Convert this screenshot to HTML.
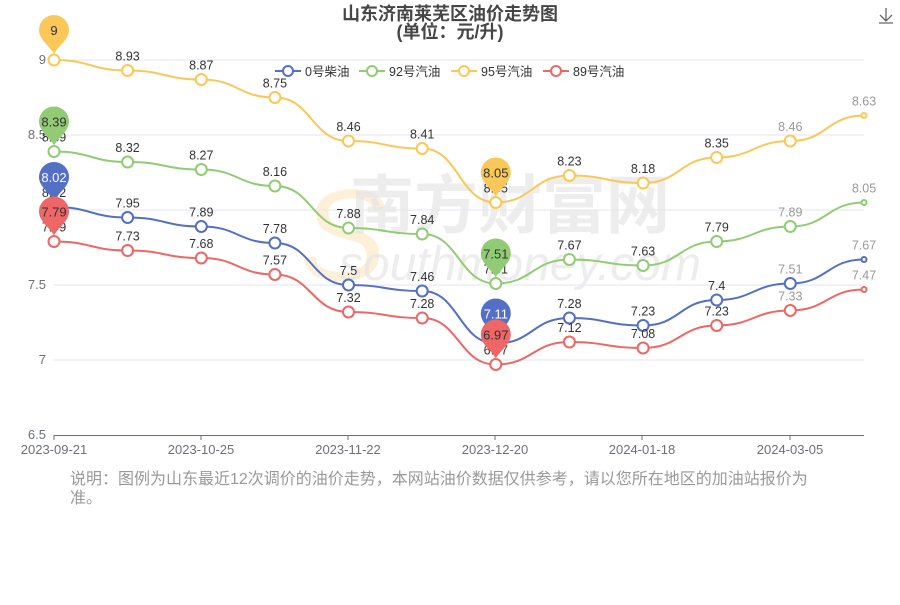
<!DOCTYPE html>
<html><head><meta charset="utf-8"><style>
body{margin:0;background:#fff;width:900px;height:600px;overflow:hidden}
svg{font-family:"Liberation Sans","Noto Sans CJK SC",sans-serif}
</style></head><body>
<svg id="s" width="900" height="600" xmlns="http://www.w3.org/2000/svg">
<text x="450" y="20" text-anchor="middle" font-size="18" font-weight="bold" fill="#464646">山东济南莱芜区油价走势图</text>
<text x="450" y="38" text-anchor="middle" font-size="18" font-weight="bold" fill="#464646">(单位：元/升)</text>
<g stroke="#666" fill="none" stroke-width="1.3"><path d="M886 8v13M880 15l6 6 6-6M879 23h14"/></g>
<g stroke="#e0e6f1" stroke-width="1">
<line x1="54" x2="864" y1="60" y2="60"/><line x1="54" x2="864" y1="135" y2="135"/><line x1="54" x2="864" y1="210" y2="210"/><line x1="54" x2="864" y1="285" y2="285"/><line x1="54" x2="864" y1="360" y2="360"/></g>
<line x1="54" x2="864" y1="435.5" y2="435.5" stroke="#6e7079"/>
<g stroke="#6e7079"><line x1="54" x2="54" y1="435" y2="440"/><line x1="201" x2="201" y1="435" y2="440"/><line x1="348" x2="348" y1="435" y2="440"/><line x1="495" x2="495" y1="435" y2="440"/><line x1="642" x2="642" y1="435" y2="440"/><line x1="790" x2="790" y1="435" y2="440"/></g>
<g font-size="13" fill="#6e7079" text-anchor="end"><text x="46" y="64">9</text><text x="46" y="139">8.5</text><text x="46" y="214">8</text><text x="46" y="289">7.5</text><text x="46" y="364">7</text><text x="46" y="439">6.5</text></g>
<g font-size="13" fill="#6e7079" text-anchor="middle"><text x="54" y="454">2023-09-21</text><text x="201" y="454">2023-10-25</text><text x="348" y="454">2023-11-22</text><text x="495" y="454">2023-12-20</text><text x="642" y="454">2024-01-18</text><text x="790" y="454">2024-03-05</text></g>
<text x="300" y="280" font-size="130" font-style="italic" fill="#fdebc8" opacity="0.7">S</text>
<text x="510" y="228" font-size="64" font-weight="bold" fill="#e6e6e6" text-anchor="middle" opacity="0.7">南方财富网</text>
<text x="520" y="280" font-size="48" font-style="italic" fill="#e6e6e6" text-anchor="middle" opacity="0.7">southmoney.com</text>
<g font-size="12.5" fill="#333">
<g stroke="#5470c6" stroke-width="2" fill="#fff"><line x1="275" x2="301" y1="71" y2="71"/><circle cx="288" cy="71" r="5"/></g><text x="305" y="76">0号柴油</text>
<g stroke="#91cc75" stroke-width="2" fill="#fff"><line x1="359" x2="385" y1="71" y2="71"/><circle cx="372" cy="71" r="5"/></g><text x="389" y="76">92号汽油</text>
<g stroke="#fac858" stroke-width="2" fill="#fff"><line x1="451" x2="477" y1="71" y2="71"/><circle cx="464" cy="71" r="5"/></g><text x="481" y="76">95号汽油</text>
<g stroke="#ee6666" stroke-width="2" fill="#fff"><line x1="543" x2="569" y1="71" y2="71"/><circle cx="556" cy="71" r="5"/></g><text x="573" y="76">89号汽油</text>
</g>
<g id="series"></g>
<text x="70" y="484" font-size="16" fill="#999">说明：图例为山东最近12次调价的油价走势，本网站油价数据仅供参考，请以您所在地区的加油站报价为</text>
<text x="70" y="503" font-size="16" fill="#999">准。</text>
</svg>
<script>
var xs=[54,127.6,201.3,274.9,348.5,422.2,495.8,569.4,643.1,716.7,790.3,864];
var S=[
["#5470c6",[8.02,7.95,7.89,7.78,7.5,7.46,7.11,7.28,7.23,7.4,7.51,7.67],"#fff"],
["#91cc75",[8.39,8.32,8.27,8.16,7.88,7.84,7.51,7.67,7.63,7.79,7.89,8.05],"#333"],
["#fac858",[9,8.93,8.87,8.75,8.46,8.41,8.05,8.23,8.18,8.35,8.46,8.63],"#333"],
["#ee6666",[7.79,7.73,7.68,7.57,7.32,7.28,6.97,7.12,7.08,7.23,7.33,7.47],"#333"]];
function Y(v){return 435-(v-6.5)*150}
var h="",pins="";
S.forEach(function(s){
 var c=s[0],d=s[1],p="M"+xs[0]+" "+Y(d[0]);
 for(var i=1;i<12;i++){var dx=(xs[i]-xs[i-1])*0.5;p+=" C"+(xs[i-1]+dx)+" "+Y(d[i-1])+" "+(xs[i]-dx)+" "+Y(d[i])+" "+xs[i]+" "+Y(d[i]);}
 h+='<path d="'+p+'" fill="none" stroke="'+c+'" stroke-width="2"/>';
 for(var i=0;i<12;i++){var r=i==11?2.5:5.5;h+='<circle cx="'+xs[i]+'" cy="'+Y(d[i])+'" r="'+r+'" fill="#fff" stroke="'+c+'" stroke-width="2"/>';
  h+='<text x="'+xs[i]+'" y="'+(Y(d[i])-10)+'" font-size="12.5" text-anchor="middle" fill="'+(i>=10?"#999":"#333")+'">'+d[i]+'</text>';}
 [0,6].forEach(function(i){var x=xs[i],y=Y(d[i]);
  pins+='<path d="M'+x+' '+(y-6)+' C'+(x-4)+' '+(y-14)+' '+(x-15)+' '+(y-20)+' '+(x-15)+' '+(y-30)+' A15 15 0 1 1 '+(x+15)+' '+(y-30)+' C'+(x+15)+' '+(y-20)+' '+(x+4)+' '+(y-14)+' '+x+' '+(y-6)+'Z" fill="'+c+'"/>';
  pins+='<text x="'+x+'" y="'+(y-25)+'" font-size="13" text-anchor="middle" fill="'+s[2]+'">'+d[i]+'</text>';});
});
document.getElementById("series").innerHTML=h+pins;
</script>
</body></html>
